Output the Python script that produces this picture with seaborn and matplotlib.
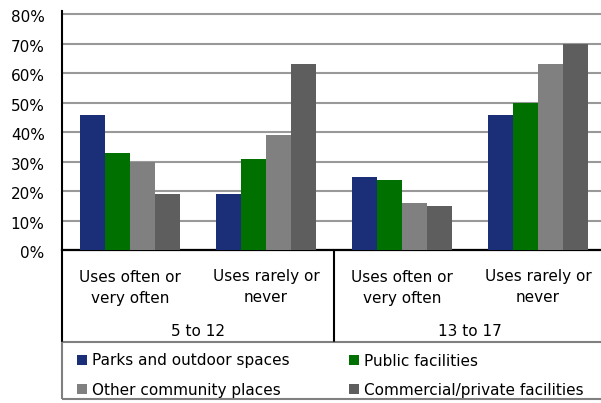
import matplotlib
matplotlib.use("Agg")
import matplotlib.pyplot as plt
import matplotlib.transforms as mtransforms
from matplotlib.patches import Patch, Rectangle
from matplotlib.lines import Line2D
import seaborn as sns
import pandas as pd

# ---- data ----
age_groups = ["5 to 12", "13 to 17"]
usage = ["Uses often or\nvery often", "Uses rarely or\nnever"]
series = ["Parks and outdoor spaces", "Public facilities",
          "Other community places", "Commercial/private facilities"]
parks = [46, 19, 25, 46]
public = [33, 31, 24, 50]
other = [30, 39, 16, 63]
commercial = [19, 63, 15, 70]
yticks = [0, 10, 20, 30, 40, 50, 60, 70, 80]
colors = ["#1B2E78", "#007000", "#808080", "#5E5E5E"]

keys = [f"{a} | {u}" for a in age_groups for u in usage]
labels = [u for a in age_groups for u in usage]
rows = []
for name, vals in zip(series, [parks, public, other, commercial]):
    for k, v in zip(keys, vals):
        rows.append({"cat": k, "series": name, "value": v})
df = pd.DataFrame(rows)

sns.set_theme(style="white")
plt.rcParams["font.family"] = ["DejaVu Sans"]
FS = 11

W, H = 601, 403
fig = plt.figure(figsize=(W / 100, H / 100), dpi=100)

def fx(px):
    return px / W

def fy(py):
    return (H - py) / H

y0_px, y80_px = 250.3, 14.3
per = (y0_px - y80_px) / 80.0
ytop = 81
ax_left, ax_right = 62, 606
ax = fig.add_axes([fx(ax_left), fy(y0_px), (ax_right - ax_left) / W,
                   (ytop * per) / H])

sns.barplot(data=df, x="cat", y="value", hue="series", order=keys,
            hue_order=series, palette=colors, width=0.74, saturation=1,
            legend=False, ax=ax, zorder=3, linewidth=0, edgecolor="none")

ax.set_xlim(-0.5, 3.5)
ax.set_ylim(0, ytop)
ax.set_yticks(yticks)
ax.set_yticklabels([f"{t}%" for t in yticks], fontsize=FS, color="black")
ax.set_xticks([])
ax.set_xlabel("")
ax.set_ylabel("")
ax.tick_params(axis="y", length=0, pad=12.5)
off = mtransforms.ScaledTranslation(0, -2.0 / 100, fig.dpi_scale_trans)
for lab in ax.get_yticklabels():
    lab.set_transform(lab.get_transform() + off)

ax.yaxis.grid(True, color="#999999", linewidth=1.5, zorder=0)
ax.set_axisbelow(True)
for s in ["top", "right"]:
    ax.spines[s].set_visible(False)
ax.spines["left"].set_color("black")
ax.spines["left"].set_linewidth(1.5)
ax.spines["bottom"].set_color("black")
ax.spines["bottom"].set_linewidth(1.6)

# ---- category and group labels ----
bt = mtransforms.blended_transform_factory(ax.transData, fig.transFigure)
for i, lab in enumerate(labels):
    l1, l2 = lab.split("\n")
    ax.text(i, fy(277), l1, transform=bt, ha="center", va="center",
            fontsize=FS, color="black")
    ax.text(i, fy(298), l2, transform=bt, ha="center", va="center",
            fontsize=FS, color="black")
for j, g in enumerate(age_groups):
    ax.text(2 * j + 0.5, fy(332), g, transform=bt, ha="center", va="center",
            fontsize=FS, color="black")

# vertical lines below axis
for xd in [-0.5, 1.5]:
    fig.add_artist(Line2D([xd, xd], [fy(250), fy(341)], transform=bt,
                          color="black", linewidth=1.5, clip_on=False))

# legend box
fig.add_artist(Rectangle((fx(61.5), fy(399)), fx(W + 5) - fx(61.5),
                         fy(342) - fy(399), transform=fig.transFigure,
                         facecolor="none", edgecolor="#808080",
                         linewidth=1.5))

handles = [Patch(facecolor=c, edgecolor="none") for c in colors]
for col, (idx, xpx) in enumerate([((0, 2), 77), ((1, 3), 349)]):
    leg = fig.legend([handles[k] for k in idx], [series[k] for k in idx],
                     loc="upper left", bbox_to_anchor=(fx(xpx), fy(353.5)),
                     bbox_transform=fig.transFigure, frameon=False,
                     borderpad=0, borderaxespad=0, fontsize=FS,
                     handlelength=0.65, handleheight=0.65,
                     handletextpad=0.35, labelspacing=0.93)
    for t in leg.get_texts():
        t.set_color("black")

fig.savefig("out.png", dpi=100)
